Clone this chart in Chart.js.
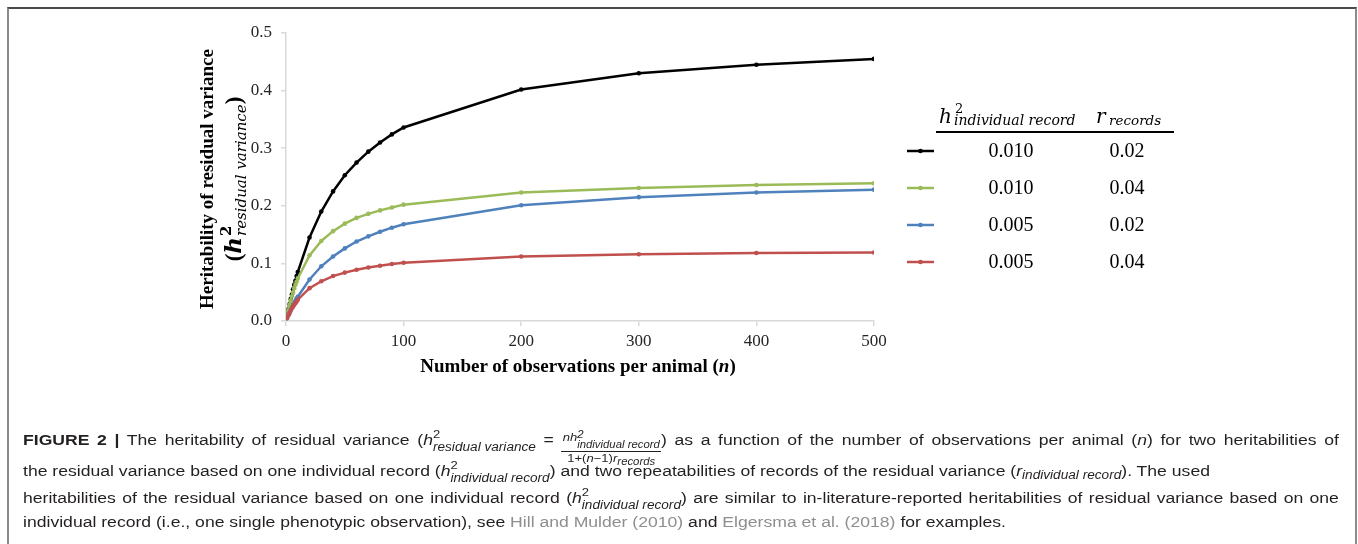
<!DOCTYPE html>
<html>
<head>
<meta charset="utf-8">
<script src="https://cdn.jsdelivr.net/npm/chart.js@4.4.1/dist/chart.umd.min.js"></script>
<style>
  html, body { margin: 0; padding: 0; background: #fff; }
  #wrap { position: relative; width: 1358px; height: 544px; overflow: hidden; background: #fff; }
  #frame { position: absolute; left: 7px; top: 7px; width: 1346px; height: 600px;
           border-top: 2px solid #4a4a4a; border-left: 2px solid #8a8a8a; border-right: 2px solid #8a8a8a; }
  #chart { position: absolute; left: 0; top: 0; }
  .serif { font-family: "Liberation Serif", "Times New Roman", serif; color: #000; }
  .math { font-family: "DejaVu Serif", serif; font-style: italic; }
  #ytitle { position: absolute; width: 340px; height: 50px; left: 49px; top: 154px;
            transform: rotate(-90deg); transform-origin: 170px 25px; text-align: center;
            font-weight: bold; font-size: 19px; line-height: 25px; white-space: nowrap; }
  #ytitle .l2 { font-size: 23px; line-height: 25px; }
  .ss { display: inline-flex; flex-direction: column; line-height: 1; text-align: left; }
  #ytitle .ss { vertical-align: 0.42em; margin-left: 1px; }
  #ytitle .ss .sp { font-size: 15px; font-weight: bold; font-family: "DejaVu Serif", serif; font-style: normal; }
  #ytitle .ss .sb { font-size: 15px; font-weight: normal; margin-top: 0px; }
  #xtitle { position: absolute; left: 300px; width: 556px; top: 355px; text-align: center;
            font-weight: bold; font-size: 19px; line-height: 22px; white-space: nowrap; }
  .cap { position: absolute; left: 23px; white-space: nowrap; transform-origin: 0 0;
         font-family: "Liberation Sans", Arial, sans-serif; font-size: 15.5px; line-height: 18px; color: #231f20; }
  .cap b { font-weight: bold; }
  .cap .lnk { color: #8e8e8e; }
  .cap .ss { vertical-align: 0.42em; }
  .cap .ss .sp { font-size: 11.5px; }
  .cap .ss .sb { font-size: 12px; font-style: italic; }
  .cap sub { font-size: 12px; font-style: italic; vertical-align: -0.3em; line-height: 0; }
  .frac { display: inline-flex; flex-direction: column; vertical-align: 0.3em; line-height: 1; text-align: center; font-size: 11.5px; font-style: italic; }
  .frac .num { border-bottom: 1px solid #231f20; padding: 0 1px 1px 1px; }
  .frac .num .ss { vertical-align: 0.3em; }
  .frac .num .ss .sp, .frac .num .ss .sb { font-size: 10px; }
  .frac .den { padding-top: 1px; }
  .frac .den sub { font-size: 10px; }
  .nb { word-spacing: 0; }
</style>
</head>
<body>
<div id="wrap">
  <canvas id="chart" width="1358" height="544"></canvas>
  <div id="frame"></div>

  <div id="ytitle" class="serif">
    <div>Heritability of residual variance</div>
    <div class="l2">(<span class="math" style="font-weight:bold;">h</span><span class="ss"><span class="sp">2</span><span class="sb math">residual variance</span></span>)</div>
  </div>

  <div id="xtitle" class="serif">Number of observations per animal (<i>n</i>)</div>

  <div class="cap" id="c1" style="top:429px;"><b>FIGURE 2 |</b> The heritability of residual variance (<i>h</i><span class="ss nb"><span class="sp">2</span><span class="sb">residual variance</span></span> = <span class="frac nb"><span class="num">nh<span class="ss"><span class="sp">2</span><span class="sb">individual record</span></span></span><span class="den"><span style="font-style:normal">1+(</span>n<span style="font-style:normal">−1)</span>r<sub>records</sub></span></span>) as a function of the number of observations per animal (<i>n</i>) for two heritabilities of</div>
  <div class="cap" id="c2" style="top:460px;">the residual variance based on one individual record (<i>h</i><span class="ss nb"><span class="sp">2</span><span class="sb">individual record</span></span>) and two repeatabilities of records of the residual variance (<i>r</i><sub class="nb">individual record</sub>). The used</div>
  <div class="cap" id="c3" style="top:487px;">heritabilities of the residual variance based on one individual record (<i>h</i><span class="ss nb"><span class="sp">2</span><span class="sb">individual record</span></span>) are similar to in-literature-reported heritabilities of residual variance based on one</div>
  <div class="cap" id="c4" style="top:513px;">individual record (i.e., one single phenotypic observation), see <span class="lnk">Hill and Mulder (2010)</span> and <span class="lnk">Elgersma et al. (2018)</span> for examples.</div>
</div>

<script>
// Number of observations per animal (n)
const nValues = [1, 2, 3, 4, 5, 6, 7, 8, 9, 10, 20, 30, 40, 50, 60, 70, 80, 90, 100, 200, 300, 400, 500];

// Heritability of residual variance for each (h2, r) combination
const h010r02 = [0.010, 0.020, 0.029, 0.038, 0.046, 0.055, 0.063, 0.070, 0.078, 0.085,
                 0.145, 0.190, 0.225, 0.253, 0.275, 0.294, 0.310, 0.324, 0.336, 0.402, 0.430, 0.445, 0.455];
const h010r04 = [0.010, 0.019, 0.028, 0.036, 0.043, 0.050, 0.057, 0.063, 0.068, 0.074,
                 0.114, 0.139, 0.156, 0.169, 0.179, 0.186, 0.192, 0.197, 0.202, 0.223, 0.231, 0.236, 0.239];
const h005r02 = [0.005, 0.010, 0.014, 0.019, 0.023, 0.027, 0.031, 0.035, 0.039, 0.042,
                 0.072, 0.095, 0.112, 0.126, 0.138, 0.147, 0.155, 0.162, 0.168, 0.201, 0.215, 0.223, 0.228];
const h005r04 = [0.005, 0.010, 0.014, 0.018, 0.022, 0.025, 0.028, 0.031, 0.034, 0.037,
                 0.057, 0.069, 0.078, 0.084, 0.089, 0.093, 0.096, 0.099, 0.101, 0.112, 0.116, 0.118, 0.119];

// Legend table columns
const h2Labels = ["0.010", "0.010", "0.005", "0.005"];
const rLabels = ["0.02", "0.04", "0.02", "0.04"];

// Axis ticks
const xTicks = [0, 100, 200, 300, 400, 500];
const yTicks = [0.0, 0.1, 0.2, 0.3, 0.4, 0.5];

const seriesValues = [h010r02, h010r04, h005r02, h005r04];
const seriesColors = ["#000000", "#9bbb59", "#4f81bd", "#c0504d"];

const tickFont = { family: "Liberation Serif", size: 17 };
const axisGray = "#d9d9d9";

// Draws the h2 / r legend table to the right of the plot
const legendTable = {
  id: "legendTable",
  afterDraw(chart) {
    const ctx = chart.ctx;
    ctx.save();
    ctx.fillStyle = "#000";
    ctx.textBaseline = "alphabetic";
    ctx.textAlign = "left";
    ctx.font = "italic 20px 'DejaVu Serif'";
    ctx.fillText("h", 939, 123);
    ctx.font = "13px 'DejaVu Serif'";
    ctx.fillText("2", 955, 113);
    ctx.font = "italic 14px 'DejaVu Serif'";
    ctx.fillText("individual record", 954, 125);
    ctx.font = "italic 20px 'DejaVu Serif'";
    ctx.fillText("r", 1096, 123);
    ctx.font = "italic 13.5px 'DejaVu Serif'";
    ctx.fillText("records", 1109, 125);

    ctx.strokeStyle = "#000";
    ctx.lineWidth = 2;
    ctx.beginPath();
    ctx.moveTo(936, 132);
    ctx.lineTo(1174, 132);
    ctx.stroke();

    const rowY = [151, 188, 225, 262];
    chart.data.datasets.forEach((ds, i) => {
      const y = rowY[i];
      ctx.strokeStyle = ds.borderColor;
      ctx.lineWidth = 2.5;
      ctx.beginPath();
      ctx.moveTo(907, y);
      ctx.lineTo(934, y);
      ctx.stroke();
      ctx.fillStyle = ds.borderColor;
      ctx.beginPath();
      ctx.arc(920.5, y, 2.3, 0, Math.PI * 2);
      ctx.fill();
      ctx.fillStyle = "#000";
      ctx.font = "20px 'Liberation Serif'";
      ctx.textAlign = "center";
      ctx.textBaseline = "middle";
      ctx.fillText(h2Labels[i], 1011, y + 1);
      ctx.fillText(rLabels[i], 1127, y + 1);
    });
    ctx.restore();
  }
};

new Chart(document.getElementById("chart"), {
  type: "line",
  data: {
    datasets: seriesValues.map((vals, i) => ({
      label: h2Labels[i] + " / " + rLabels[i],
      data: nValues.map((n, k) => ({ x: n, y: vals[k] })),
      borderColor: seriesColors[i],
      backgroundColor: seriesColors[i],
      borderWidth: 2.5,
      pointRadius: 2.3,
      pointBorderWidth: 0,
      pointHoverRadius: 0,
      tension: 0,
      order: [3, 2, 1, 0][i]
    }))
  },
  options: {
    responsive: false,
    animation: false,
    events: [],
    layout: { padding: { left: 180, top: 33, right: 1358 - 874, bottom: 544 - 321 - 50 } },
    plugins: { legend: { display: false }, tooltip: { enabled: false }, title: { display: false } },
    scales: {
      x: {
        type: "linear",
        min: xTicks[0],
        max: xTicks[xTicks.length - 1],
        afterBuildTicks(scale) { scale.ticks = xTicks.map(v => ({ value: v })); },
        afterFit(scale) { scale.height = 50; },
        ticks: { font: tickFont, color: "#262626", padding: 5, maxRotation: 0, callback: v => String(v) },
        grid: { drawOnChartArea: false, drawTicks: true, tickLength: 5, color: axisGray, lineWidth: 1.5 },
        border: { color: axisGray, width: 1.5 }
      },
      y: {
        min: yTicks[0],
        max: yTicks[yTicks.length - 1],
        afterBuildTicks(scale) { scale.ticks = yTicks.map(v => ({ value: v })); },
        afterFit(scale) { scale.width = 106; },
        ticks: { font: tickFont, color: "#262626", padding: 9, callback: v => Number(v).toFixed(1) },
        grid: { drawOnChartArea: false, drawTicks: true, tickLength: 5, color: axisGray, lineWidth: 1.5 },
        border: { color: axisGray, width: 1.5 }
      }
    }
  },
  plugins: [legendTable]
});

// Caption: one common horizontal condensing taken from the last (ragged) line,
// then full lines are justified to the column width with word spacing.
const capWidths = { c1: 1316, c2: 1182, c3: 1316, c4: 983 };
function fitCaption() {
  const ids = Object.keys(capWidths);
  ids.forEach(id => {
    const el = document.getElementById(id);
    el.style.transform = "none";
    el.style.wordSpacing = "0px";
  });
  const last = document.getElementById("c4");
  const s = capWidths.c4 / last.getBoundingClientRect().width;
  ids.forEach(id => {
    const el = document.getElementById(id);
    if (id !== "c4") {
      const w = el.getBoundingClientRect().width;
      let gaps = 0;
      el.childNodes.forEach(node => {
        if (node.nodeType === 3) gaps += (node.textContent.match(/ /g) || []).length;
        else if (!node.classList || !node.classList.contains("nb")) gaps += (node.textContent.match(/ /g) || []).length;
      });
      const extra = Math.max(0, (capWidths[id] / s - w) / Math.max(gaps, 1));
      el.style.wordSpacing = extra.toFixed(2) + "px";
      el.querySelectorAll(".nb").forEach(n => { n.style.wordSpacing = "0px"; });
    }
    el.style.transform = "scaleX(" + s.toFixed(4) + ")";
  });
}
fitCaption();
if (document.fonts && document.fonts.ready) document.fonts.ready.then(fitCaption);
</script>
</body>
</html>
